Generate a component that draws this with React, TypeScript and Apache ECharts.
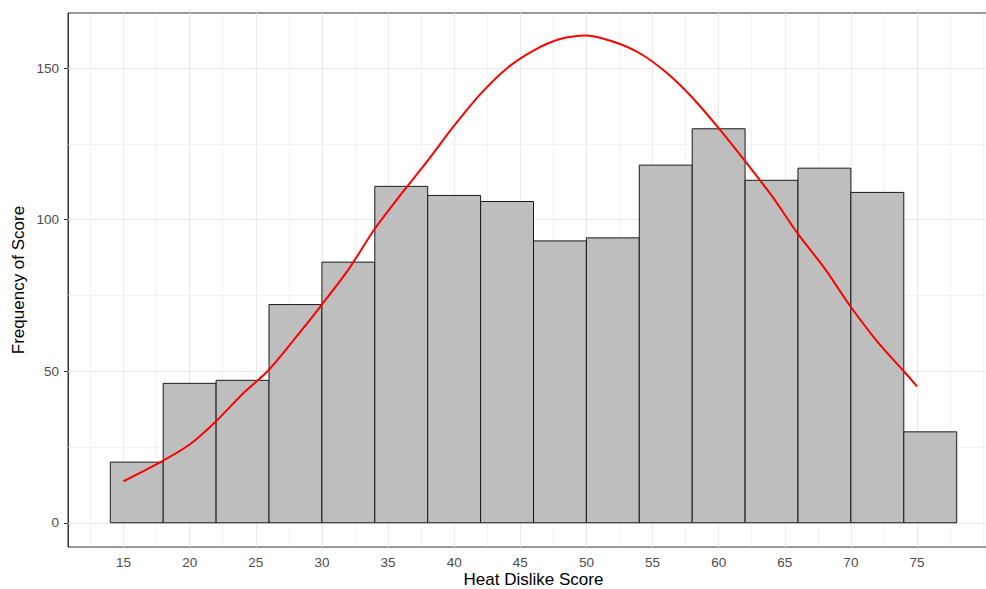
import React, { useEffect, useRef } from "react";
import * as echarts from "echarts";

// Histogram bins (left edge) and counts; each bin is 4 wide
const binStarts = [14, 18, 22, 26, 30, 34, 38, 42, 46, 50, 54, 58, 62, 66, 70, 74];
const binCounts = [20, 46, 47, 72, 86, 111, 108, 106, 93, 94, 118, 130, 113, 117, 109, 30];
const binWidth = 4;

// Red density curve (scaled)
const curveX = [15, 18, 20, 22, 24, 26, 28, 30, 32, 34, 36, 38, 40, 42, 44, 46, 48, 50, 52, 54, 56, 58, 60, 62, 64, 66, 68, 70, 72, 74, 75];
const curveY = [13.7, 20.5, 25.8, 33.5, 42.5, 50.5, 61, 72, 83.5, 97, 108.5, 119.5, 131, 141.5, 150, 155.8, 159.6, 160.8, 158.8, 155, 148.7, 140.3, 130.2, 119.3, 108, 95.3, 84, 71.2, 59.8, 50, 45];

// Tick labels / gridlines
const xTicks = [15, 20, 25, 30, 35, 40, 45, 50, 55, 60, 65, 70, 75];
const xMinor = [12.5, 17.5, 22.5, 27.5, 32.5, 37.5, 42.5, 47.5, 52.5, 57.5, 62.5, 67.5, 72.5, 77.5, 80];
const yTicks = [0, 50, 100, 150];
const yMinor = [25, 75, 125];

const FONT = "'Liberation Sans', Arial, sans-serif";

export default function App() {
  const ref = useRef<HTMLDivElement>(null);

  useEffect(() => {
    if (!ref.current) return;
    const chart = echarts.init(ref.current, undefined, { renderer: "svg" });

    const gridMajor = { color: "#ebebeb", width: 1.1, type: "solid" as const };
    const gridMinor = { color: "#ebebeb", width: 0.6, type: "solid" as const };

    const markData: any[] = [
      ...xMinor.map((v) => ({ xAxis: v, lineStyle: gridMinor })),
      ...yMinor.map((v) => ({ yAxis: v, lineStyle: gridMinor })),
      ...xTicks.map((v) => ({ xAxis: v, lineStyle: gridMajor })),
      ...yTicks.map((v) => ({ yAxis: v, lineStyle: gridMajor })),
    ];

    chart.setOption({
      animation: false,
      backgroundColor: "#ffffff",
      grid: {
        left: 68,
        top: 13,
        width: 931,
        height: 534,
        outerBoundsMode: "none",
        containLabel: false,
        show: true,
        borderColor: "#333333",
        borderWidth: 1,
        backgroundColor: "#ffffff",
      },
      xAxis: {
        type: "value",
        min: 10.8,
        max: 81.2,
        name: "Heat Dislike Score",
        nameLocation: "middle",
        nameGap: 24,
        nameMoveOverlap: false,
        nameTextStyle: { fontFamily: FONT, fontSize: 17, lineHeight: 17, color: "#000000", verticalAlign: "top" },
        axisLine: { show: true, lineStyle: { color: "#333333", width: 1 } },
        axisTick: { show: true, length: 4, customValues: xTicks, lineStyle: { color: "#333333" } },
        axisLabel: { customValues: xTicks, margin: 8, fontFamily: FONT, fontSize: 13.5, color: "#4d4d4d" },
        splitLine: { show: false },
      },
      yAxis: {
        type: "value",
        min: -8,
        max: 168.2,
        name: "Frequency of Score",
        nameLocation: "middle",
        nameGap: 41,
        nameMoveOverlap: false,
        nameTextStyle: { fontFamily: FONT, fontSize: 17, color: "#000000" },
        axisLine: { show: true, lineStyle: { color: "#333333", width: 1 } },
        axisTick: { show: true, length: 4, customValues: yTicks, lineStyle: { color: "#333333" } },
        axisLabel: { customValues: yTicks, margin: 9, fontFamily: FONT, fontSize: 13.5, color: "#4d4d4d" },
        splitLine: { show: false },
      },
      series: [
        {
          type: "line",
          data: [],
          z: 1,
          silent: true,
          markLine: {
            silent: true,
            symbol: ["none", "none"],
            label: { show: false },
            z: 1,
            data: markData,
          },
        },
        {
          type: "custom",
          z: 2,
          data: binStarts.map((s, i) => [s, s + binWidth, binCounts[i]]),
          renderItem: (params: any, api: any) => {
            const p0 = api.coord([api.value(0), 0]);
            const p1 = api.coord([api.value(1), api.value(2)]);
            return {
              type: "rect",
              shape: { x: p0[0], y: p1[1], width: p1[0] - p0[0], height: p0[1] - p1[1] },
              style: { fill: "#bebebe", stroke: "#1a1a1a", lineWidth: 1 },
            };
          },
        },
        {
          type: "line",
          z: 3,
          smooth: 0.3,
          showSymbol: false,
          data: curveX.map((x, i) => [x, curveY[i]]),
          lineStyle: { color: "#ff0000", width: 2 },
        },
      ],
    });

    return () => chart.dispose();
  }, []);

  return (
    <div
      ref={ref}
      style={{ position: "fixed", left: 0, top: 0, width: 986, height: 589, background: "#fff" }}
    />
  );
}
